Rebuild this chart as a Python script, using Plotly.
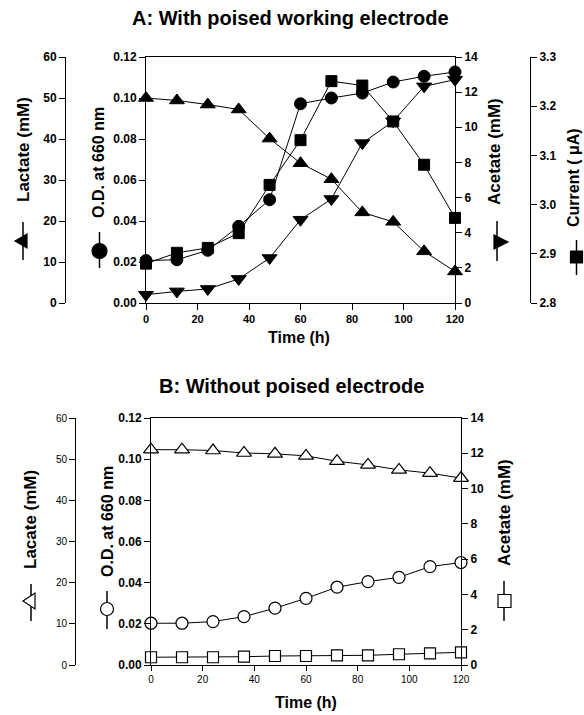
import plotly.graph_objects as go

W, H = 584, 715

# ---------------- data ----------------
time_h = [0, 12, 24, 36, 48, 60, 72, 84, 96, 108, 120]
x_ticks = [0, 20, 40, 60, 80, 100, 120]

# Panel A: with poised working electrode
a_lactate = [50.0, 49.4, 48.4, 47.2, 40.1, 34.1, 30.2, 22.1, 19.8, 12.6, 7.7]
a_od = [0.0207, 0.0211, 0.0257, 0.0374, 0.0504, 0.0972, 0.1000, 0.1024, 0.1078, 0.1106, 0.1127]
a_acetate = [0.47, 0.66, 0.80, 1.37, 2.56, 4.74, 5.92, 9.10, 10.34, 12.33, 12.71]
a_current = [2.880, 2.902, 2.912, 2.942, 3.040, 3.131, 3.251, 3.242, 3.169, 3.081, 2.973]

# Panel B: without poised electrode
b_lactate = [52.3, 52.3, 52.1, 51.5, 51.3, 50.8, 49.5, 48.6, 47.4, 46.6, 45.4]
b_od = [0.0203, 0.0203, 0.0211, 0.0235, 0.0276, 0.0324, 0.0378, 0.0405, 0.0426, 0.0478, 0.0498]
b_acetate = [0.44, 0.44, 0.44, 0.47, 0.51, 0.51, 0.55, 0.55, 0.61, 0.66, 0.72]

od_ticks = [0.00, 0.02, 0.04, 0.06, 0.08, 0.10, 0.12]
lactate_ticks = [0, 10, 20, 30, 40, 50, 60]
acetate_ticks = [0, 2, 4, 6, 8, 10, 12, 14]
current_ticks = [2.8, 2.9, 3.0, 3.1, 3.2, 3.3]

# ---------------- layout helpers ----------------
def fx(x):
    return x / W

def fy(y):
    return 1 - y / H

A_x = [fx(146), fx(455)]
A_y = [fy(303), fy(57)]
B_x = [fx(151), fx(461)]
B_y = [fy(665), fy(418)]

FONT = "Liberation Sans"
bold12 = dict(family=FONT, size=12, color="black", weight="bold")
bold11 = dict(family=FONT, size=11, color="black", weight="bold")
reg10 = dict(family=FONT, size=10, color="black")

def yax(domain, rng, ticks, fmt, font, **kw):
    d = dict(domain=domain, range=rng, tickvals=ticks, tickformat=fmt,
             showline=True, linecolor="black", linewidth=1,
             ticks="outside", ticklen=6, tickcolor="black", tickwidth=1,
             showgrid=False, zeroline=False, tickfont=font, fixedrange=True,
             automargin=False)
    d.update(kw)
    return d

def xax(domain, anchor, font, ticklen):
    return dict(domain=domain, range=[0, 120], tickvals=x_ticks, anchor=anchor,
                showline=True, mirror=True, linecolor="black", linewidth=1,
                ticks="outside", ticklen=ticklen, tickcolor="black",
                showgrid=False, zeroline=False, tickfont=font, fixedrange=True,
                automargin=False)

fig = go.Figure()

def line_trace(x, y, xa, ya, symbol, size, filled):
    if filled:
        marker = dict(symbol=symbol, size=size, color="black", line=dict(color="black", width=1))
    else:
        marker = dict(symbol=symbol, size=size, color="white", line=dict(color="black", width=1.2))
    return go.Scatter(x=x, y=y, xaxis=xa, yaxis=ya, mode="lines+markers",
                      line=dict(color="black", width=1), marker=marker,
                      cliponaxis=False, showlegend=False)

# Panel A traces
fig.add_trace(line_trace(time_h, a_lactate, "x", "y2", "triangle-up", 13, True))
fig.add_trace(line_trace(time_h, a_acetate, "x", "y3", "triangle-down", 13, True))
fig.add_trace(line_trace(time_h, a_current, "x", "y4", "square", 11, True))
fig.add_trace(line_trace(time_h, a_od, "x", "y", "circle", 12, True))

# Panel B traces
fig.add_trace(line_trace(time_h, b_lactate, "x2", "y6", "triangle-up", 13, False))
fig.add_trace(line_trace(time_h, b_acetate, "x2", "y7", "square", 11, False))
fig.add_trace(line_trace(time_h, b_od, "x2", "y5", "circle", 12, False))

fig.update_layout(
    template="none",
    width=W, height=H,
    margin=dict(l=0, r=0, t=0, b=0, pad=0, autoexpand=False),
    paper_bgcolor="white", plot_bgcolor="white",
    showlegend=False,
    xaxis=xax(A_x, "y", bold11, 6),
    yaxis=yax(A_y, [0, 0.12], od_ticks, ".2f", bold12, anchor="x"),
    yaxis2=yax(A_y, [0, 60], lactate_ticks, "d", bold12, anchor="free",
               overlaying="y", side="left", position=fx(65)),
    yaxis3=yax(A_y, [0, 14], acetate_ticks, "d", bold12, anchor="x",
               overlaying="y", side="right"),
    yaxis4=yax(A_y, [2.8, 3.3], current_ticks, ".1f", bold12, anchor="free",
               overlaying="y", side="right", position=fx(530)),
    xaxis2=xax(B_x, "y5", reg10, 5),
    yaxis5=yax(B_y, [0, 0.12], od_ticks, ".2f", bold12, anchor="x2"),
    yaxis6=yax(B_y, [0, 60], lactate_ticks, "d", reg10, anchor="free",
               overlaying="y5", side="left", position=fx(75)),
    yaxis7=yax(B_y, [0, 14], acetate_ticks, "d", bold12, anchor="x2",
               overlaying="y5", side="right"),
)

def ann(text, x, y, size, angle=0):
    fig.add_annotation(text=text, x=fx(x), y=fy(y), xref="paper", yref="paper",
                       xanchor="center", yanchor="middle", showarrow=False,
                       textangle=angle,
                       font=dict(family=FONT, size=size, color="black", weight="bold"))

# Titles
ann("A: With poised working electrode", 290, 18, 20)
ann("B: Without poised electrode", 291, 386, 20)
ann("Time (h)", 299, 338, 16)
ann("Time (h)", 306, 702, 16)

# Axis titles
ann("Lactate (mM)", 23, 150, 17, -90)
ann("O.D. at 660 nm", 98, 163, 16, -90)
ann("Acetate (mM)", 495, 152, 17, -90)
ann("Current ( μA)", 574, 178, 16, -90)
ann("Lacate (mM)", 30, 520, 17, -90)
ann("O.D. at 660 nm", 107, 522, 16, -90)
ann("Acetate (mM)", 504, 513, 17, -90)

# Legend-style key glyphs beside the axis titles (vertical line + symbol)
def key_line(x, y0, y1):
    fig.add_shape(type="line", xref="paper", yref="paper",
                  x0=fx(x), x1=fx(x), y0=fy(y0), y1=fy(y1),
                  line=dict(color="black", width=1.5))

def key_tri(apex_x, base_x, yc, half, filled):
    path = "M {:.5f} {:.5f} L {:.5f} {:.5f} L {:.5f} {:.5f} Z".format(
        fx(apex_x), fy(yc), fx(base_x), fy(yc - half), fx(base_x), fy(yc + half))
    fig.add_shape(type="path", xref="paper", yref="paper", path=path,
                  fillcolor="black" if filled else "white",
                  line=dict(color="black", width=1.2))

def key_circle(xc, yc, r, filled):
    fig.add_shape(type="circle", xref="paper", yref="paper",
                  x0=fx(xc - r), x1=fx(xc + r), y0=fy(yc + r), y1=fy(yc - r),
                  fillcolor="black" if filled else "white",
                  line=dict(color="black", width=1.2))

def key_square(xc, yc, h, filled):
    fig.add_shape(type="rect", xref="paper", yref="paper",
                  x0=fx(xc - h), x1=fx(xc + h), y0=fy(yc + h), y1=fy(yc - h),
                  fillcolor="black" if filled else "white",
                  line=dict(color="black", width=1.2))

# Panel A keys
key_line(23, 222, 260); key_tri(15, 27, 241, 7, True)
key_line(99.5, 232, 268); key_circle(99.5, 251, 7.5, True)
key_line(497, 221, 261); key_tri(508, 494, 242, 7, True)
key_line(576.5, 240, 275); key_square(576.5, 257, 6, True)

# Panel B keys
key_line(31, 584, 621); key_tri(23, 35, 601, 8, False)
key_line(107, 591, 629); key_circle(107, 609, 6.5, False)
key_line(504, 581, 621); key_square(504.5, 601, 6.5, False)

fig.write_html("out.html", config={"displayModeBar": False},
               post_script="document.body.style.margin='0';document.body.style.padding='0';")
